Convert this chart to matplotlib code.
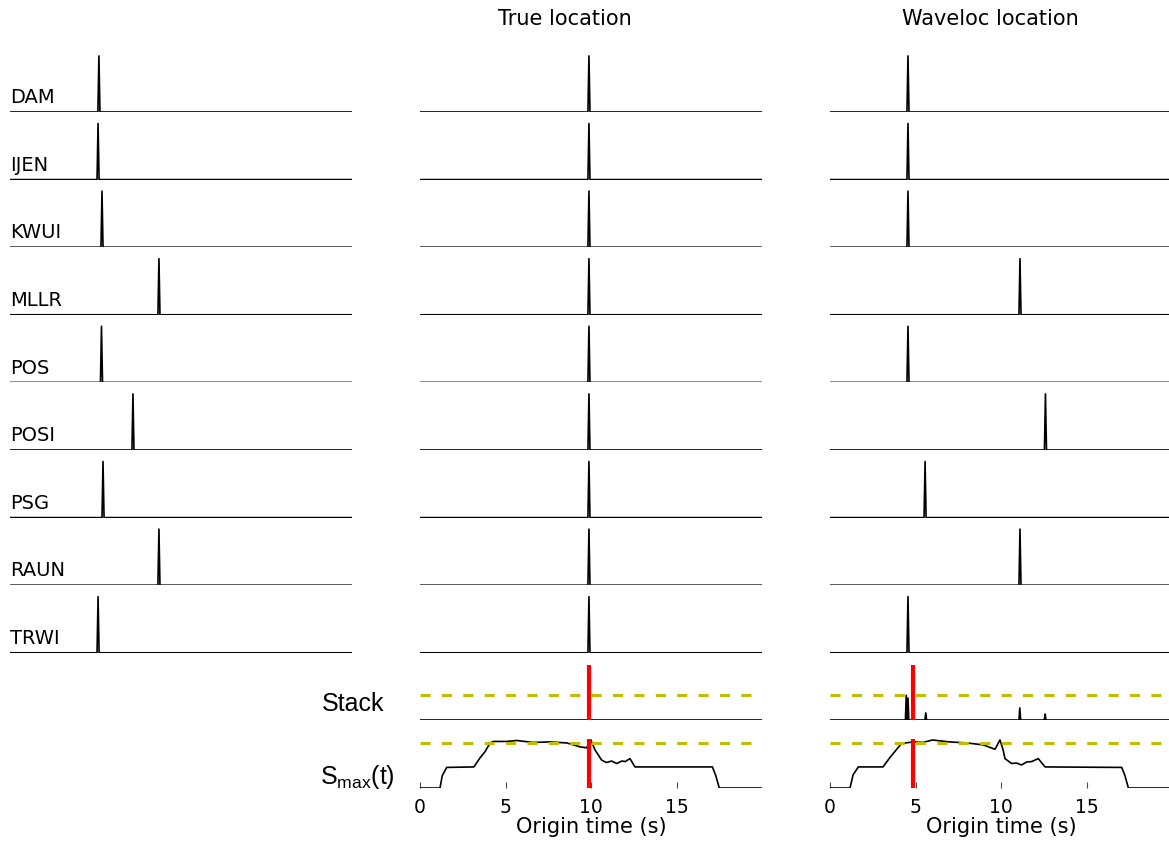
import matplotlib.pyplot as plt
import numpy as np

plt.rcParams['mathtext.fontset'] = 'custom'
plt.rcParams['mathtext.rm'] = 'Liberation Sans'

stations = ['DAM', 'IJEN', 'KWUI', 'MLLR', 'POS', 'POSI', 'PSG', 'RAUN', 'TRWI']

# arrival / peak times (s) of the kurtosis spikes
t_obs = [5.20, 5.15, 5.38, 8.71, 5.35, 7.19, 5.44, 8.71, 5.15]
t_true = [9.88, 9.88, 9.88, 9.88, 9.88, 9.88, 9.88, 9.88, 9.88]
t_wavel = [4.56, 4.56, 4.56, 11.11, 4.56, 12.60, 5.56, 11.11, 4.56]

# stack peaks (time, amplitude)
stack_true_t = [9.88]
stack_true_a = [0.98]
stack_wavel_t = [4.46, 4.56, 5.60, 11.10, 12.58]
stack_wavel_a = [0.45, 0.40, 0.13, 0.22, 0.11]

# S_max(t) curves
smax_true_t = [0, 1.17, 1.3, 1.56, 3.15, 3.5, 3.8, 4.1, 4.3, 5.07, 5.65, 6.6, 7.6, 8.58,
               9.36, 9.75, 9.98, 10.23, 10.62, 10.9, 11.2, 11.5, 11.8, 12.0,
               12.28, 12.57, 17.1, 17.3, 17.5, 20]
smax_true_v = [0, 0, 0.25, 0.42, 0.43, 0.61, 0.74, 0.92, 0.95, 0.95, 0.97, 0.93, 0.94, 0.92,
               0.84, 0.82, 0.99, 0.78, 0.57, 0.52, 0.55, 0.50, 0.55, 0.54,
               0.60, 0.43, 0.43, 0.25, 0, 0]
smax_wavel_t = [0, 1.17, 1.35, 1.66, 3.1, 3.5, 3.9, 4.19, 4.87, 5.44, 6.0, 7.0, 8.0, 8.96,
                9.65, 9.94, 10.13, 10.23, 10.62, 10.9, 11.2, 11.5, 11.8, 12.18,
                12.57, 17.06, 17.25, 17.45, 20]
smax_wavel_v = [0, 0, 0.27, 0.43, 0.43, 0.62, 0.79, 0.91, 0.94, 0.93, 0.98, 0.94, 0.92, 0.88,
                0.79, 0.98, 0.77, 0.60, 0.50, 0.51, 0.47, 0.53, 0.54, 0.60,
                0.43, 0.42, 0.25, 0, 0]

t_origin_true = 9.88
t_origin_wavel = 4.86
thr_stack = 0.45
thr_smax = 0.92

W, H = 1169, 844
fig = plt.figure(figsize=(W / 100, H / 100), dpi=100)


def px_axes(x0, ytop, w, h):
    return fig.add_axes([x0 / W, 1 - (ytop + h) / H, w / W, h / H])


def spike_trace(times, amps, hw=0.06):
    x = [0.0]
    y = [0.0]
    for t, a in sorted(zip(times, amps)):
        x += [t - hw, t, t + hw]
        y += [0.0, a, 0.0]
    x.append(20.0)
    y.append(0.0)
    return np.array(x), np.array(y)


col_x = [10, 420, 830]
col_w = 342
dash = (0, (3.3, 3.7))

for c, times in enumerate([t_obs, t_true, t_wavel]):
    for i, name in enumerate(stations):
        base = 112 + 67.6 * i
        ax = px_axes(col_x[c], base - 60, col_w, 60)
        x, y = spike_trace([times[i]], [1.0])
        ax.plot(x, y, color='k', lw=1.2)
        ax.set_xlim(0, 20)
        ax.set_ylim(0, 1.07)
        ax.axis('off')
        if c == 0:
            ax.text(0, 0.08, name, transform=ax.transAxes, fontsize=14,
                    ha='left', va='bottom')

for c, (st_t, st_a, sm_t, sm_v, t0) in enumerate([
        (stack_true_t, stack_true_a, smax_true_t, smax_true_v, t_origin_true),
        (stack_wavel_t, stack_wavel_a, smax_wavel_t, smax_wavel_v, t_origin_wavel)]):
    x0 = col_x[c + 1]

    ax = px_axes(x0, 665, col_w, 55)
    x, y = spike_trace(st_t, st_a, hw=0.05)
    ax.plot(x, y, color='k', lw=1.2)
    ax.axhline(thr_stack, color='y', lw=2.2, ls=dash)
    ax.axvline(t0, color='r', lw=3)
    ax.set_xlim(0, 20)
    ax.set_ylim(0, 1)
    ax.axis('off')
    if c == 0:
        ax.text(-0.105, 0.29, 'Stack', transform=ax.transAxes, fontsize=18,
                family='Liberation Sans', ha='right', va='center')

    ax = px_axes(x0, 739, col_w, 49)
    ax.plot(sm_t, sm_v, color='k', lw=1.2)
    ax.axhline(thr_smax, color='y', lw=2.2, ls=dash)
    ax.axvline(t0, color='r', lw=3)
    ax.set_xlim(0, 20)
    ax.set_ylim(0, 1)
    for s in ax.spines.values():
        s.set_visible(False)
    ax.set_yticks([])
    ax.set_xticks([0, 5, 10, 15])
    ax.tick_params(axis='x', direction='in', length=4, labelsize=13.5, pad=7,
                   color='0.3')
    ax.set_xlabel('Origin time (s)', fontsize=15, labelpad=0)
    if c == 0:
        ax.text(-0.075, 0.22, r'S$_{\mathrm{max}}$(t)', transform=ax.transAxes,
                fontsize=18, family='Liberation Sans', ha='right', va='center')

fig.text(565 / W, 1 - 19 / H, 'True location', fontsize=15, ha='center', va='center')
fig.text(990 / W, 1 - 19 / H, 'Waveloc location', fontsize=15, ha='center', va='center')

fig.savefig('out.png', dpi=100)
